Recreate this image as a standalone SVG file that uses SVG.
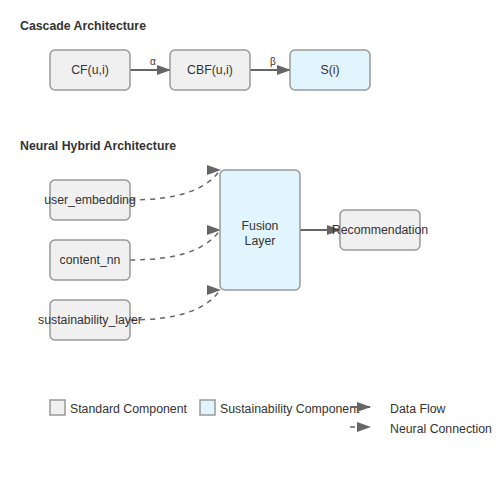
<svg xmlns="http://www.w3.org/2000/svg" width="500" height="500" viewBox="0 0 500 500">
<style>
text{font-family:"Liberation Sans",Arial,sans-serif;fill:#333;}
.title{font-size:12.3px;font-weight:bold;}
.lbl{font-size:12.3px;text-anchor:middle;dominant-baseline:middle;}
.leg{font-size:12.3px;}
.greek{font-size:10px;text-anchor:middle;}
.std{fill:#f0f0f0;stroke:#999;stroke-width:1.5;}
.sus{fill:#e1f5fe;stroke:#999;stroke-width:1.5;}
.flow{stroke:#666;stroke-width:2;fill:none;}
.neural{stroke:#666;stroke-width:1.5;stroke-dasharray:5,5;fill:none;}
</style>
<defs>
<marker id="arrow" markerUnits="userSpaceOnUse" markerWidth="14" markerHeight="10" viewBox="0 0 14 10" refX="13" refY="5" orient="auto">
<path d="M0,0 L14,5 L0,10 z" fill="#666"/>
</marker>
<marker id="arrowH" markerUnits="userSpaceOnUse" markerWidth="14" markerHeight="10" viewBox="0 0 14 10" refX="13" refY="5" orient="0">
<path d="M0,0 L14,5 L0,10 z" fill="#666"/>
</marker>
</defs>
<rect width="500" height="500" fill="#fff"/>
<text class="title" x="20" y="30">Cascade Architecture</text>
<text class="title" x="20" y="150">Neural Hybrid Architecture</text>

<g id="connectors">
<line class="flow" x1="130" y1="70" x2="170" y2="70" marker-end="url(#arrow)"/>
<text class="greek" x="153" y="65">α</text>
<line class="flow" x1="250" y1="70" x2="290" y2="70" marker-end="url(#arrow)"/>
<text class="greek" x="273" y="65">β</text>
<path class="neural" d="M130,200 Q200,200 220,170" marker-end="url(#arrowH)"/>
<path class="neural" d="M130,260 Q200,260 220,230" marker-end="url(#arrowH)"/>
<path class="neural" d="M130,320 Q200,320 220,290" marker-end="url(#arrowH)"/>
<line class="flow" x1="300" y1="230" x2="340" y2="230" marker-end="url(#arrow)"/>
</g>

<g id="cf"><rect class="std" x="50" y="50" width="80" height="40" rx="5"/><text class="lbl" x="90" y="71">CF(u,i)</text></g>
<g id="cbf"><rect class="std" x="170" y="50" width="80" height="40" rx="5"/><text class="lbl" x="210" y="71">CBF(u,i)</text></g>
<g id="si"><rect class="sus" x="290" y="50" width="80" height="40" rx="5"/><text class="lbl" x="330" y="71">S(i)</text></g>

<g id="user_embedding"><rect class="std" x="50" y="180" width="80" height="40" rx="5"/><text class="lbl" x="90" y="201">user_embedding</text></g>
<g id="content_nn"><rect class="std" x="50" y="240" width="80" height="40" rx="5"/><text class="lbl" x="90" y="261">content_nn</text></g>
<g id="sustainability_layer"><rect class="std" x="50" y="300" width="80" height="40" rx="5"/><text class="lbl" x="90" y="321">sustainability_layer</text></g>
<g id="fusion"><rect class="sus" x="220" y="170" width="80" height="120" rx="5"/><text class="lbl" x="260" y="226.5">Fusion</text><text class="lbl" x="260" y="241.5">Layer</text></g>
<g id="recommendation"><rect class="std" x="340" y="210" width="80" height="40" rx="5"/><text class="lbl" x="380" y="231">Recommendation</text></g>

<g id="legend">
<rect class="std" x="50" y="400" width="15" height="15"/>
<text class="leg" x="70" y="412.5">Standard Component</text>
<rect class="sus" x="200" y="400" width="15" height="15"/>
<text class="leg" x="220" y="412.5">Sustainability Component</text>
<line class="flow" x1="350" y1="407" x2="370" y2="407" marker-end="url(#arrow)"/>
<text class="leg" x="390" y="412.5">Data Flow</text>
<line class="neural" x1="350" y1="427" x2="370" y2="427" marker-end="url(#arrow)"/>
<text class="leg" x="390" y="432.5">Neural Connection</text>
</g>
</svg>
